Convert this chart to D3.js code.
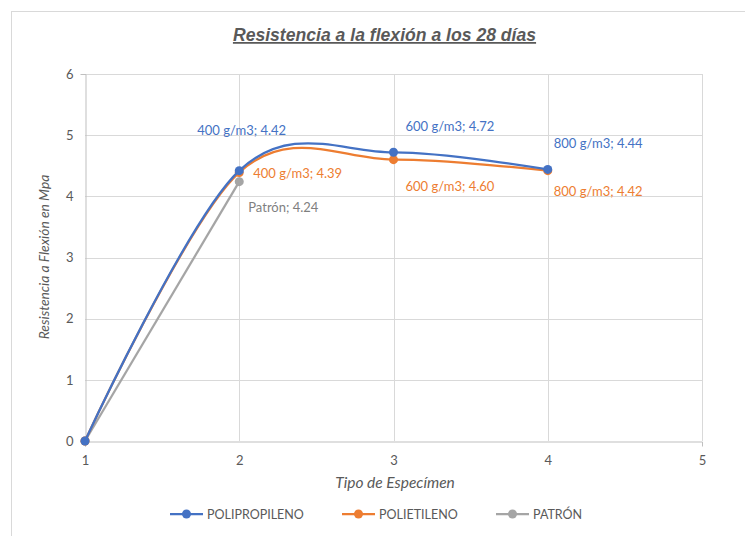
<!DOCTYPE html>
<html><head><meta charset="utf-8">
<script src="https://cdn.jsdelivr.net/npm/d3@7"></script>
<style>body{margin:0;background:#fff}svg{display:block}</style>
</head><body>
<script>
const xTicks = [1, 2, 3, 4, 5];
const yTicks = [0, 1, 2, 3, 4, 5, 6];
const seriesNames = ["POLIPROPILENO", "POLIETILENO", "PATRÓN"];
const seriesColors = ["#4472C4", "#ED7D31", "#A5A5A5"];
const polipropilenoX = [1, 2, 3, 4];
const polipropilenoY = [0, 4.42, 4.72, 4.44];
const polietilenoX = [1, 2, 3, 4];
const polietilenoY = [0, 4.39, 4.60, 4.42];
const patronX = [1, 2];
const patronY = [0, 4.24];
const polipropilenoLabels = [null, "400 g/m3; 4.42", "600 g/m3; 4.72", "800 g/m3; 4.44"];
const polietilenoLabels = [null, "400 g/m3; 4.39", "600 g/m3; 4.60", "800 g/m3; 4.42"];
const patronLabels = [null, "Patrón; 4.24"];

const W = 745, H = 536;
const svg = d3.select("body").append("svg").attr("width", W).attr("height", H);
svg.append("rect").attr("x", 11.5).attr("y", 11.5).attr("width", W).attr("height", H)
  .attr("fill", "#fff").attr("stroke", "#d9d9d9").attr("stroke-width", 1);

const x = d3.scaleLinear().domain([1, 5]).range([85, 702]);
const y = d3.scaleLinear().domain([0, 6]).range([441, 74]);
const txt = "#595959";
const font = "Lato, 'Open Sans', sans-serif";

// gridlines
svg.append("g").selectAll("line").data(yTicks.slice(1)).join("line")
  .attr("x1", x(1)).attr("x2", x(5)).attr("y1", d => Math.round(y(d)) + 0.5).attr("y2", d => Math.round(y(d)) + 0.5)
  .attr("stroke", "#d9d9d9").attr("stroke-width", 1);
svg.append("g").selectAll("line").data(xTicks.slice(1)).join("line")
  .attr("y1", y(0)).attr("y2", y(6)).attr("x1", d => Math.round(x(d)) + 0.5).attr("x2", d => Math.round(x(d)) + 0.5)
  .attr("stroke", "#d9d9d9").attr("stroke-width", 1);

// axes
const yAxis = svg.append("g").attr("transform", `translate(${Math.round(x(1)) + 0.5},0)`)
  .call(d3.axisLeft(y).tickValues(yTicks).tickSize(5).tickPadding(7).tickFormat(d3.format("d")));
const xAxis = svg.append("g").attr("transform", `translate(0,${Math.round(y(0)) + 0.5})`)
  .call(d3.axisBottom(x).tickValues(xTicks).tickSize(5).tickPadding(9).tickFormat(d3.format("d")));
[xAxis, yAxis].forEach(a => {
  a.select(".domain").attr("stroke", "#bfbfbf");
  a.selectAll(".tick line").attr("stroke", "#bfbfbf");
  a.selectAll(".tick text").attr("fill", txt).attr("font-size", 13).attr("font-family", font);
});
xAxis.selectAll(".tick line").filter(d => d !== 1).remove();
yAxis.selectAll(".tick line").filter(d => d !== 0).remove();

// title
svg.append("text").attr("x", 384.5).attr("y", 41).attr("text-anchor", "middle")
  .attr("font-family", "'Liberation Sans', Arial, sans-serif").attr("font-size", 17.6)
  .attr("font-weight", "bold").attr("font-style", "italic").attr("text-decoration", "underline")
  .attr("fill", txt).text("Resistencia a la flexión a los 28 días");

// axis titles
svg.append("text").attr("transform", "translate(49,257) rotate(-90)").attr("text-anchor", "middle")
  .attr("font-family", font).attr("font-style", "italic").attr("font-size", 13.8).attr("fill", txt)
  .text("Resistencia a Flexión en Mpa");
svg.append("text").attr("x", 395).attr("y", 488).attr("text-anchor", "middle")
  .attr("font-family", font).attr("font-style", "italic").attr("font-size", 15.5).attr("fill", txt)
  .text("Tipo de Especímen");

const series = [
  {xs: polipropilenoX, ys: polipropilenoY, labels: polipropilenoLabels, smooth: true,
   off: [null, [-42, -36], [12, -21], [6, -21]]},
  {xs: polietilenoX, ys: polietilenoY, labels: polietilenoLabels, smooth: true,
   off: [null, [14, 6], [12, 31], [6, 25]]},
  {xs: patronX, ys: patronY, labels: patronLabels, smooth: false,
   off: [null, [9, 30]]}
];

// draw in reverse so blue is on top
[2, 1, 0].forEach(i => {
  const s = series[i];
  const pts = s.xs.map((d, j) => [d, s.ys[j]]);
  const line = d3.line().x(d => x(d[0])).y(d => y(d[1]))
    .curve(s.smooth ? d3.curveCatmullRom.alpha(0) : d3.curveLinear);
  svg.append("path").datum(pts).attr("d", line).attr("fill", "none")
    .attr("stroke", seriesColors[i]).attr("stroke-width", 2.25).attr("stroke-linejoin", "round");
  svg.append("g").selectAll("circle").data(pts).join("circle")
    .attr("cx", d => x(d[0])).attr("cy", d => y(d[1])).attr("r", 4.5)
    .attr("fill", seriesColors[i]);
});
series.forEach((s, i) => {
  s.labels.forEach((lab, j) => {
    if (!lab) return;
    svg.append("text").attr("x", x(s.xs[j]) + s.off[j][0]).attr("y", y(s.ys[j]) + s.off[j][1])
      .attr("font-family", font).attr("font-size", 13).attr("fill", seriesColors[i] === "#A5A5A5" ? "#7f7f7f" : seriesColors[i])
      .text(lab);
  });
});

// legend
const legX = [170, 342, 496];
seriesNames.forEach((n, i) => {
  const g = svg.append("g").attr("transform", `translate(${legX[i]},514)`);
  g.append("line").attr("x1", 0).attr("x2", 33).attr("stroke", seriesColors[i]).attr("stroke-width", 2.25);
  g.append("circle").attr("cx", 16.5).attr("r", 4.5).attr("fill", seriesColors[i]);
  g.append("text").attr("x", 37).attr("y", 4.5).attr("font-family", font).attr("font-size", 12.5)
    .attr("fill", txt).text(n);
});
</script>
</body></html>
